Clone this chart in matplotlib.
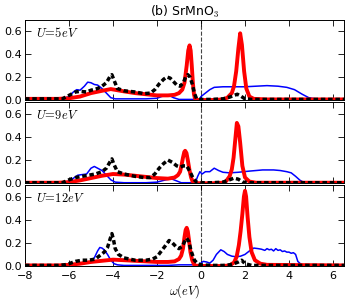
import matplotlib
matplotlib.use("Agg")
import matplotlib.pyplot as plt

plt.rcParams['mathtext.fontset'] = 'cm'
plt.rcParams['font.family'] = ['DejaVu Sans']

U_labels = [r"$U\!=\!5eV$", r"$U\!=\!9eV$", r"$U\!=\!12eV$"]
x_ticks = [-8, -6, -4, -2, 0, 2, 4, 6]
y_ticks = [0.0, 0.2, 0.4, 0.6]

# ---- U = 5 eV ----
blue5_x = [-8, -6.3, -6.0, -5.8, -5.65, -5.5, -5.3, -5.15, -5.0, -4.85, -4.7, -4.5, -4.3, -4.1, -3.9, -3.5, -3.0, -2.5,
           -2.0, -1.8, -1.6, -1.4, -1.25, -1.0, -0.5, -0.05, 0.0, 0.2, 0.4, 0.6, 1.0, 1.5, 2.0, 2.5, 3.0, 3.5, 3.9,
           4.25, 4.6, 4.9, 5.2, 5.6, 6.5]
blue5_y = [0.01, 0.01, 0.03, 0.07, 0.09, 0.085, 0.12, 0.155, 0.15, 0.135, 0.13, 0.1, 0.06, 0.02, 0.01, 0.01, 0.01, 0.01,
           0.015, 0.03, 0.04, 0.035, 0.02, 0.005, 0.005, 0.005, 0.03, 0.06, 0.09, 0.11, 0.115, 0.115, 0.115, 0.12,
           0.125, 0.12, 0.11, 0.09, 0.05, 0.02, 0.01, 0.005, 0.005]
red5_x = [-8, -6.5, -6.0, -5.5, -5.0, -4.5, -4.1, -3.8, -3.5, -3.0, -2.5, -2.0, -1.5, -1.2, -1.0, -0.85, -0.75, -0.65,
          -0.58, -0.52, -0.47, -0.42, -0.37, -0.32, -0.27, -0.2, 0, 0.5, 1.0, 1.2, 1.4, 1.5, 1.6, 1.7, 1.78, 1.86,
          1.96, 2.06, 2.2, 2.4, 3.0, 6.5]
red5_y = [0.01, 0.01, 0.015, 0.03, 0.06, 0.08, 0.095, 0.085, 0.075, 0.06, 0.05, 0.04, 0.04, 0.045, 0.06, 0.09, 0.15,
          0.3, 0.43, 0.475, 0.43, 0.3, 0.15, 0.05, 0.01, 0.0, 0.0, 0.0, 0.005, 0.02, 0.06, 0.12, 0.25, 0.45, 0.58,
          0.48, 0.25, 0.1, 0.03, 0.01, 0.005, 0.005]
black5_x = [-8, -6.3, -6.0, -5.7, -5.5, -5.2, -5.0, -4.7, -4.5, -4.3, -4.15, -4.05, -3.95, -3.8, -3.5, -3.0, -2.6, -2.3,
            -2.1, -1.9, -1.7, -1.55, -1.4, -1.25, -1.1, -0.95, -0.8, -0.7, -0.6, -0.5, -0.4, -0.3, -0.2, 0.0, 0.5,
            1.0, 1.3, 1.5, 1.65, 1.8, 2.0, 2.3, 6.5]
black5_y = [0.01, 0.01, 0.04, 0.07, 0.075, 0.07, 0.085, 0.1, 0.12, 0.15, 0.2, 0.22, 0.17, 0.1, 0.08, 0.07, 0.055, 0.06,
            0.09, 0.14, 0.18, 0.2, 0.19, 0.16, 0.13, 0.12, 0.15, 0.2, 0.22, 0.2, 0.14, 0.06, 0.01, 0.005, 0.005, 0.01,
            0.025, 0.04, 0.05, 0.035, 0.01, 0.005, 0.005]

# ---- U = 9 eV ----
blue9_x = [-8, -6.2, -5.9, -5.6, -5.4, -5.2, -5.0, -4.85, -4.7, -4.5, -4.3, -4.1, -3.9, -3.5, -3.0, -2.5, -2.0, -1.8,
           -1.5, -1.3, -1.1, -0.9, -0.5, -0.25, -0.15, -0.05, 0.05, 0.2, 0.4, 0.6, 0.8, 1.0, 1.3, 1.7, 2.2, 2.8, 3.3,
           3.6, 3.9, 4.1, 4.3, 4.5, 4.7, 5.0, 6.5]
blue9_y = [0.005, 0.005, 0.03, 0.07, 0.075, 0.08, 0.13, 0.145, 0.13, 0.11, 0.07, 0.03, 0.01, 0.005, 0.005, 0.005, 0.01,
           0.02, 0.035, 0.035, 0.02, 0.005, 0.005, 0.01, 0.06, 0.1, 0.08, 0.1, 0.1, 0.13, 0.11, 0.095, 0.09, 0.095,
           0.105, 0.115, 0.115, 0.11, 0.1, 0.09, 0.06, 0.026, 0.005, 0.002, 0.002]
red9_x = [-8, -6.5, -6.0, -5.5, -5.0, -4.5, -4.0, -3.5, -3.0, -2.5, -2.0, -1.5, -1.2, -1.05, -0.95, -0.88, -0.82, -0.76,
          -0.72, -0.66, -0.6, -0.52, -0.45, -0.38, -0.3, 0.0, 0.5, 1.0, 1.15, 1.3, 1.4, 1.48, 1.56, 1.63, 1.7, 1.78,
          1.88, 2.0, 2.2, 2.5, 6.5]
red9_y = [0.005, 0.005, 0.01, 0.025, 0.045, 0.065, 0.08, 0.075, 0.065, 0.055, 0.045, 0.04, 0.05, 0.07, 0.1, 0.16, 0.22,
          0.27, 0.28, 0.26, 0.2, 0.11, 0.05, 0.015, 0.003, 0.0, 0.0, 0.005, 0.02, 0.06, 0.12, 0.22, 0.38, 0.52, 0.49,
          0.35, 0.15, 0.05, 0.015, 0.005, 0.005]
black9_x = [-8, -6.3, -6.0, -5.7, -5.4, -5.1, -4.8, -4.5, -4.3, -4.15, -4.05, -3.95, -3.8, -3.5, -3.0, -2.6, -2.3, -2.1,
            -1.9, -1.7, -1.5, -1.3, -1.1, -0.95, -0.8, -0.65, -0.5, -0.35, -0.2, 0.0, 0.5, 1.0, 1.3, 1.5, 1.7, 1.9,
            2.2, 6.5]
black9_y = [0.005, 0.005, 0.03, 0.05, 0.06, 0.07, 0.08, 0.1, 0.13, 0.18, 0.21, 0.16, 0.1, 0.08, 0.06, 0.05, 0.05, 0.08,
            0.13, 0.17, 0.2, 0.18, 0.15, 0.14, 0.15, 0.15, 0.1, 0.04, 0.01, 0.005, 0.005, 0.01, 0.03, 0.045, 0.035,
            0.01, 0.005, 0.005]

# ---- U = 12 eV ----
blue12_x = [-8, -6.5, -6.0, -5.5, -5.2, -5.0, -4.85, -4.7, -4.6, -4.5, -4.4, -4.25, -4.1, -3.95, -3.8, -3.5, -3.0, -2.0,
            -1.5, -1.0, -0.5, -0.1, 0.1, 0.25, 0.4, 0.55, 0.7, 0.9, 1.05, 1.2, 1.4, 1.6, 1.8, 2.0, 2.2, 2.4, 2.6, 2.75,
            2.9, 3.0, 3.1, 3.2, 3.3, 3.4, 3.5, 3.6, 3.7, 3.8, 3.9, 4.0, 4.1, 4.2, 4.3, 4.4, 4.6, 5.0, 6.5]
blue12_y = [0.005, 0.005, 0.01, 0.02, 0.03, 0.04, 0.07, 0.13, 0.16, 0.155, 0.14, 0.1, 0.05, 0.02, 0.01, 0.005, 0.005,
            0.005, 0.005, 0.01, 0.01, 0.01, 0.04, 0.035, 0.025, 0.05, 0.1, 0.14, 0.125, 0.1, 0.085, 0.08, 0.085, 0.1,
            0.13, 0.155, 0.15, 0.145, 0.135, 0.15, 0.14, 0.145, 0.13, 0.15, 0.135, 0.14, 0.125, 0.13, 0.12, 0.12,
            0.11, 0.115, 0.1, 0.04, 0.005, 0.003, 0.003]
red12_x = [-8, -6.5, -6.0, -5.5, -5.0, -4.5, -4.0, -3.5, -3.0, -2.5, -2.0, -1.5, -1.2, -1.0, -0.9, -0.82, -0.75, -0.7,
           -0.65, -0.6, -0.55, -0.48, -0.4, -0.32, -0.25, 0.0, 0.5, 1.0, 1.3, 1.5, 1.62, 1.72, 1.8, 1.88, 1.95, 2.0,
           2.05, 2.12, 2.2, 2.3, 2.45, 2.7, 3.0, 6.5]
red12_y = [0.005, 0.005, 0.01, 0.02, 0.035, 0.045, 0.055, 0.05, 0.045, 0.04, 0.035, 0.035, 0.04, 0.06, 0.09, 0.15, 0.25,
           0.31, 0.33, 0.3, 0.23, 0.12, 0.05, 0.015, 0.003, 0.0, 0.0, 0.0, 0.005, 0.03, 0.08, 0.18, 0.3, 0.45, 0.6,
           0.65, 0.6, 0.42, 0.25, 0.12, 0.05, 0.02, 0.01, 0.005]
black12_x = [-8, -6.5, -6.2, -6.0, -5.7, -5.4, -5.1, -4.8, -4.6, -4.4, -4.25, -4.12, -4.05, -3.98, -3.9, -3.75, -3.5,
             -3.0, -2.5, -2.2, -2.0, -1.8, -1.6, -1.45, -1.3, -1.15, -1.0, -0.85, -0.75, -0.65, -0.55, -0.45, -0.3,
             -0.15, 0.0, 0.5, 1.0, 1.3, 1.5, 1.7, 1.85, 2.0, 2.3, 6.5]
black12_y = [0.005, 0.005, 0.01, 0.02, 0.04, 0.05, 0.05, 0.06, 0.09, 0.12, 0.16, 0.24, 0.28, 0.23, 0.15, 0.1, 0.07,
             0.05, 0.05, 0.06, 0.08, 0.13, 0.18, 0.22, 0.2, 0.17, 0.15, 0.17, 0.21, 0.24, 0.21, 0.13, 0.05, 0.02, 0.01,
             0.005, 0.005, 0.01, 0.02, 0.035, 0.05, 0.02, 0.005, 0.005]

panels = [
    (blue5_x, blue5_y, red5_x, red5_y, black5_x, black5_y),
    (blue9_x, blue9_y, red9_x, red9_y, black9_x, black9_y),
    (blue12_x, blue12_y, red12_x, red12_y, black12_x, black12_y),
]

fig = plt.figure(figsize=(3.49, 3.03), dpi=100)
W, H = 349.0, 303.0
left, right = 25 / W, 344 / W
tops = [19.5, 102, 185]
bots = [100, 183.3, 266]

for i, (bx, by, rx, ry, kx, ky) in enumerate(panels):
    ax = fig.add_axes([left, 1 - bots[i] / H, right - left, (bots[i] - tops[i]) / H])
    ax.plot(bx, by, color='#0000ff', lw=1.1, zorder=2)
    ax.plot(rx, ry, color='#ff0000', lw=2.8, zorder=3)
    ax.plot(kx, ky, color='black', lw=2.5, ls=(0, (1.3, 0.8)), dash_capstyle='butt', zorder=4)
    ax.axvline(0, color='#444444', lw=0.8, ls='--', zorder=1)
    ax.set_xlim(-8, 6.5)
    ax.set_ylim(0, 0.7)
    ax.set_xticks(x_ticks)
    ax.set_yticks(y_ticks)
    ax.tick_params(direction='in', top=True, right=True, length=4, width=0.6, labelsize=8, pad=2)
    ax.tick_params(axis='x', pad=3.5)
    for s in ax.spines.values():
        s.set_linewidth(0.7)
    ax.text(0.034, 0.83, U_labels[i], transform=ax.transAxes, fontsize=9, va='center', ha='left')
    if i < 2:
        ax.set_xticklabels([])
    else:
        ax.set_xlabel(r"$\omega(eV)$", fontsize=9, labelpad=1)
    if i == 0:
        ax.set_title(r"(b) SrMnO$_3$", fontsize=9, pad=2)

fig.savefig("out.png", dpi=100)
